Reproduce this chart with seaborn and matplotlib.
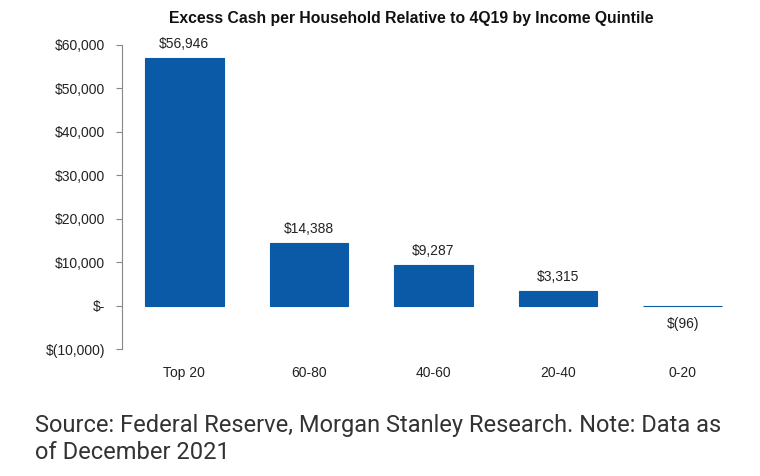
import matplotlib
matplotlib.use("Agg")
import matplotlib.pyplot as plt
import seaborn as sns
import pandas as pd

categories = ["Top 20", "60-80", "40-60", "20-40", "0-20"]
values = [56946, 14388, 9287, 3315, -96]
bar_labels = ["$56,946", "$14,388", "$9,287", "$3,315", "$(96)"]
yticks = [-10000, 0, 10000, 20000, 30000, 40000, 50000, 60000]
ytick_labels = ["$(10,000)", "$-", "$10,000", "$20,000", "$30,000", "$40,000", "$50,000", "$60,000"]

sns.set_theme(style="white")
plt.rcParams['font.family'] = ['Liberation Sans', 'DejaVu Sans']

df = pd.DataFrame({"cat": categories, "val": values})

fig = plt.figure(figsize=(7.6, 4.76), dpi=100)
ax = fig.add_axes([122/760, 1-349/476, (745-122)/760, (349-45)/476])
sns.barplot(data=df, x="cat", y="val", color="#0a5aa8", saturation=1, width=0.63, ax=ax)
for p in ax.patches:
    p.set_edgecolor("#0a5aa8")
    p.set_linewidth(0.8)
ax.set_xlim(-0.5, 4.5)
ax.set_ylim(-10000, 60000)
ax.set_yticks(yticks)
ax.set_yticklabels(ytick_labels, fontsize=10, color="#222222")
ax.set_xlabel("")
ax.set_ylabel("")
ax.tick_params(axis="x", length=0, labelsize=10, labelcolor="#222222", pad=12)
ax.tick_params(axis="y", length=4, width=0.8, color="#888888", left=True, pad=8)
for s in ["top", "right", "bottom"]:
    ax.spines[s].set_visible(False)
ax.spines["left"].set_color("#888888")
ax.spines["left"].set_linewidth(0.8)

for i, (v, lab) in enumerate(zip(values, bar_labels)):
    if v >= 0:
        ax.annotate(lab, (i, v), xytext=(0, 5), textcoords="offset points",
                    ha="center", va="bottom", fontsize=10, color="#222222")
    else:
        ax.annotate(lab, (i, v), xytext=(0, -8), textcoords="offset points",
                    ha="center", va="top", fontsize=10, color="#222222")

fig.text(411/760, 1-18/476, "Excess Cash per Household Relative to 4Q19 by Income Quintile",
         ha="center", va="center", fontsize=11.3, fontweight="bold", color="#111111")
fig.text(35/760, 1-439/476,
         "Source: Federal Reserve, Morgan Stanley Research. Note: Data as\nof December 2021",
         ha="left", va="center", fontsize=17, color="#333333", family=["Roboto", "DejaVu Sans"],
         linespacing=1.25)

fig.savefig("out.png", dpi=100)
